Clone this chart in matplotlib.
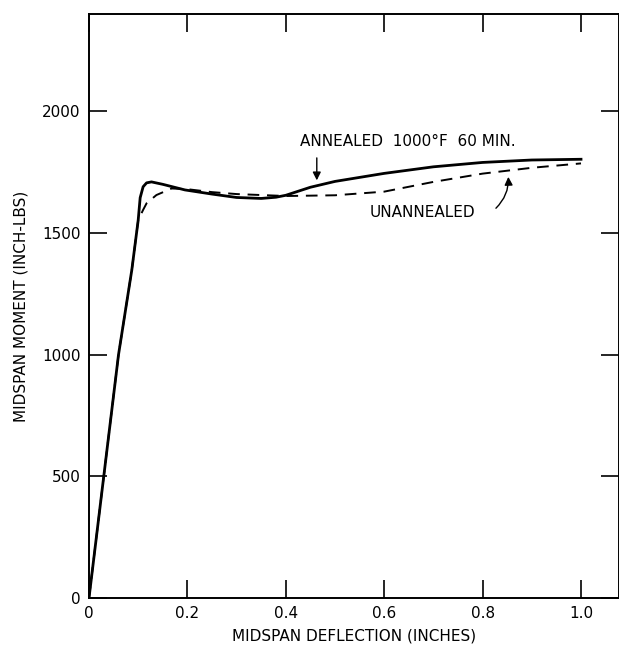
import matplotlib
matplotlib.use("Agg")
import matplotlib.pyplot as plt

# Data
annealed_x = [0, 0.03, 0.06, 0.087, 0.1, 0.104, 0.11, 0.117, 0.127, 0.15, 0.195,
              0.25, 0.3, 0.35, 0.38, 0.4, 0.45, 0.5, 0.6, 0.7, 0.8, 0.9, 1.0]
annealed_y = [0, 500, 1000, 1348, 1553, 1645, 1690, 1706, 1710, 1700, 1677,
              1660, 1646, 1642, 1647, 1655, 1688, 1712, 1745, 1772, 1790, 1800, 1803]

unannealed_x = [0, 0.03, 0.06, 0.087, 0.1, 0.11, 0.117, 0.137, 0.168, 0.2, 0.25,
                0.3, 0.35, 0.4, 0.5, 0.6, 0.7, 0.8, 0.9, 1.0]
unannealed_y = [0, 500, 1000, 1348, 1553, 1595, 1622, 1656, 1683, 1680, 1668,
                1660, 1656, 1652, 1655, 1670, 1710, 1744, 1768, 1786]

x_ticks = [0, 0.2, 0.4, 0.6, 0.8, 1.0]
x_tick_labels = ["0", "0.2", "0.4", "0.6", "0.8", "1.0"]
y_ticks = [0, 500, 1000, 1500, 2000]
y_tick_labels = ["0", "500", "1000", "1500", "2000"]

x_label = "MIDSPAN DEFLECTION (INCHES)"
y_label = "MIDSPAN MOMENT (INCH-LBS)"
annealed_label = "ANNEALED  1000°F  60 MIN."
unannealed_label = "UNANNEALED"

plt.rcParams['font.family'] = ['DejaVu Sans']

fig = plt.figure(figsize=(6.19, 6.48), dpi=100)
ax = fig.add_axes([89 / 619, 50 / 648, 530 / 619, 584 / 648])

ax.plot(annealed_x, annealed_y, color='black', lw=2.0, solid_joinstyle='round')
ax.plot(unannealed_x, unannealed_y, color='black', lw=1.4, dashes=(6, 4))

ax.set_xlim(0, 530 / 492)
ax.set_ylim(0, 2400)

ax.set_xticks(x_ticks)
ax.set_xticklabels(x_tick_labels, fontsize=11)
ax.set_yticks(y_ticks)
ax.set_yticklabels(y_tick_labels, fontsize=11)
ax.tick_params(axis='both', direction='in', length=13, width=1.2,
               top=True, right=True, pad=6)
for s in ax.spines.values():
    s.set_linewidth(1.4)

ax.set_xlabel(x_label, fontsize=11, labelpad=5)
ax.set_ylabel(y_label, fontsize=11, labelpad=10)

ax.text(0.429, 1877, annealed_label, fontsize=11, ha='left', va='center')
ax.annotate("", xy=(0.463, 1705), xytext=(0.463, 1820),
            arrowprops=dict(arrowstyle='-|>', color='black', lw=1.0,
                            mutation_scale=12))

ax.text(0.571, 1586, unannealed_label, fontsize=11, ha='left', va='center')
ax.annotate("", xy=(0.852, 1742), xytext=(0.823, 1594),
            arrowprops=dict(arrowstyle='-|>', color='black', lw=1.0,
                            mutation_scale=12,
                            connectionstyle="arc3,rad=0.25"))

fig.savefig("out.png", dpi=100)
